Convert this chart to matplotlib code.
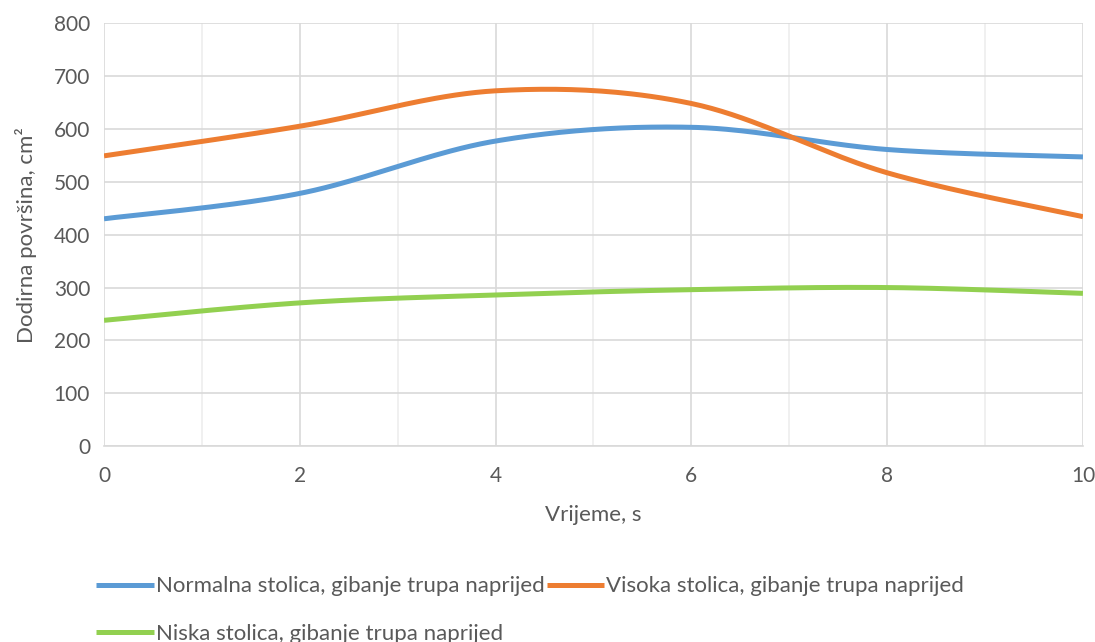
import numpy as np
import matplotlib.pyplot as plt

vrijeme = [0, 2, 4, 6, 8, 10]
normalna = [430, 478, 577, 603, 561, 547]
visoka = [549, 605, 672, 648, 517, 434]
niska = [238, 271, 286, 296, 300, 289]

labels = ["Normalna stolica, gibanje trupa naprijed",
          "Visoka stolica, gibanje trupa naprijed",
          "Niska stolica, gibanje trupa naprijed"]
colors = ["#5B9BD5", "#ED7D31", "#92D050"]


def excel_smooth(x, y, n=40):
    # Bezier kao u Excelu (Catmull-Rom, 1/6)
    x = np.asarray(x, float)
    y = np.asarray(y, float)
    px = np.concatenate([[x[0]], x, [x[-1]]])
    py = np.concatenate([[y[0]], y, [y[-1]]])
    xs, ys = [], []
    t = np.linspace(0, 1, n)
    for i in range(1, len(px) - 2):
        p0 = np.array([px[i], py[i]])
        p3 = np.array([px[i + 1], py[i + 1]])
        p1 = p0 + (np.array([px[i + 1], py[i + 1]]) - np.array([px[i - 1], py[i - 1]])) / 6
        p2 = p3 - (np.array([px[i + 2], py[i + 2]]) - np.array([px[i], py[i]])) / 6
        b = ((1 - t) ** 3)[:, None] * p0 + (3 * (1 - t) ** 2 * t)[:, None] * p1 \
            + (3 * (1 - t) * t ** 2)[:, None] * p2 + (t ** 3)[:, None] * p3
        xs.extend(b[:, 0])
        ys.extend(b[:, 1])
    return xs, ys


plt.rcParams['font.family'] = ['Lato', 'DejaVu Sans']

fig = plt.figure(figsize=(10.95, 6.42), dpi=100)
ax = fig.add_axes([0.095, 0.305, 0.894, 0.659])

linije = []
for serija, lab, c in zip([normalna, visoka, niska], labels, colors):
    sx, sy = excel_smooth(vrijeme, serija)
    linije += ax.plot(sx, sy, color=c, lw=3.6, label=lab, solid_capstyle='butt')

ax.set_xlim(0, 10)
ax.set_ylim(0, 800)
ax.set_xticks(range(0, 11, 2))
ax.set_xticks(range(1, 11, 2), minor=True)
ax.set_yticks(range(0, 801, 100))
ax.grid(which='major', color='#D9D9D9', lw=1.2)
ax.grid(which='minor', axis='x', color='#EDEDED', lw=1.2)
ax.set_axisbelow(True)
for s in ax.spines.values():
    s.set_visible(False)
ax.spines['bottom'].set_visible(True)
ax.spines['bottom'].set_color('#D9D9D9')
ax.spines['bottom'].set_linewidth(1.2)
ax.tick_params(which='both', length=0, labelsize=15, labelcolor='#595959')
ax.tick_params(axis='x', pad=14)
ax.tick_params(axis='y', pad=10)

ax.set_xlabel("Vrijeme, s", fontsize=16, color='#595959', labelpad=14)
ax.set_ylabel("Dodirna površina, cm²", fontsize=16, color='#595959', labelpad=12)

# redoslijed: po redovima kao u Excelu
h = [linije[0], linije[2], linije[1]]
fig.legend(h, [l.get_label() for l in h], loc='upper left',
           bbox_to_anchor=(0.08, 0.116), ncol=2, frameon=False,
           fontsize=16, handlelength=2.6, handletextpad=0.08, columnspacing=0.08,
           labelspacing=1.23, labelcolor='#595959', borderaxespad=0)

fig.savefig("out.png", dpi=100)
